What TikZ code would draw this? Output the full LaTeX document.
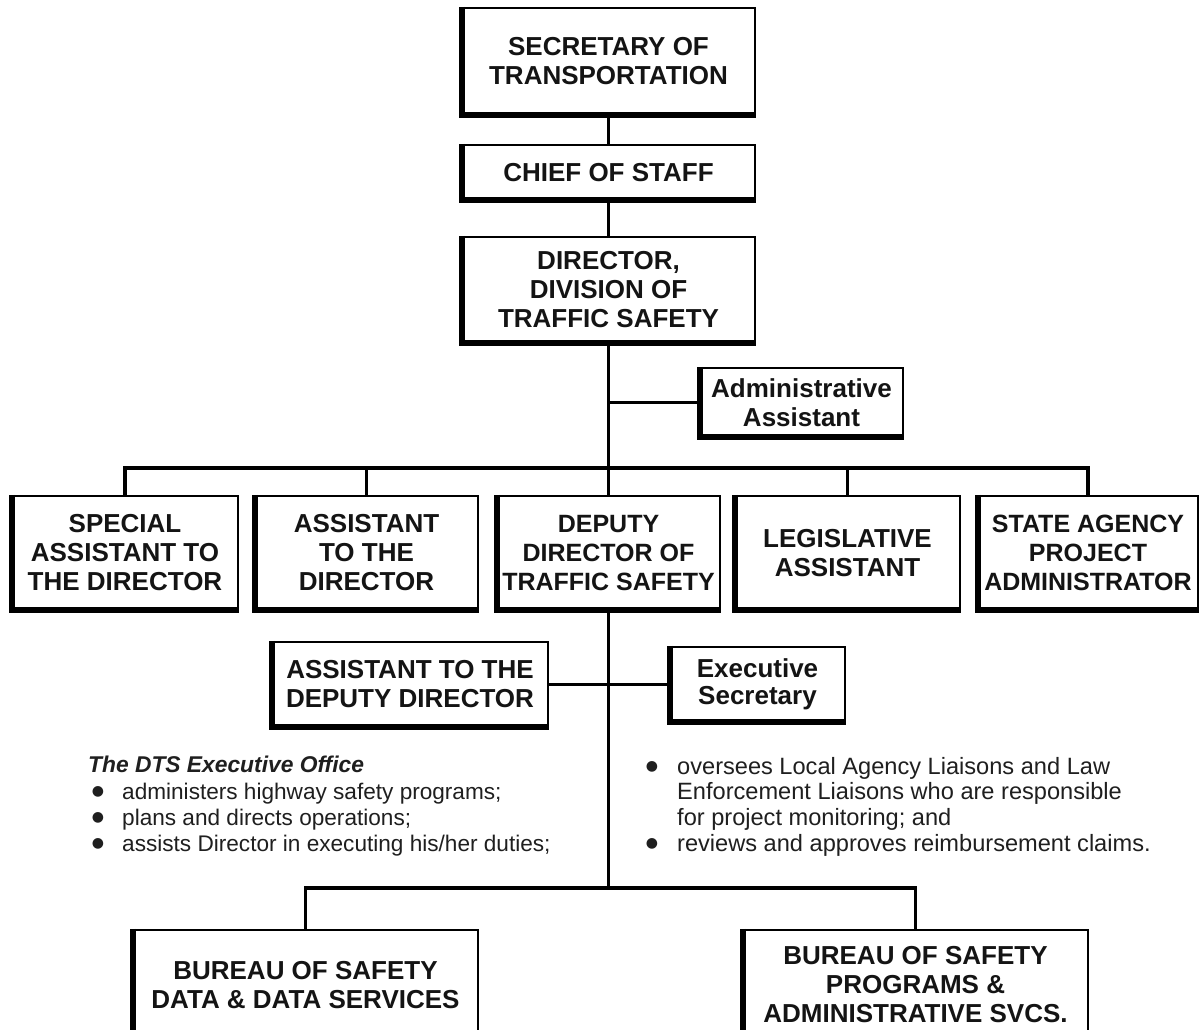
\documentclass[tikz,border=0pt]{standalone}
\usepackage{fontspec}
\setmainfont{Liberation Sans}
\newfontfamily\symfont{DejaVu Sans}
\begin{document}
\begin{tikzpicture}[x=1pt,y=-1pt,
  box/.style={draw=black, line width=2.2pt, fill=white, inner sep=0pt, align=center,
    font=\bfseries\fontsize{26}{29}\selectfont, text=black!92},
  boxnarrow/.style={box, font=\bfseries\fontsize{25}{29}\selectfont},
  boxtight/.style={box, font=\bfseries\fontsize{26}{26.5}\selectfont},
  link/.style={draw=black, line width=3.8pt, line cap=rect},
  shadowline/.style={draw=black, line width=5.5pt, line join=miter},
  body/.style={inner sep=0pt, anchor=base west, font=\fontsize{22.6}{26}\selectfont, text=black!88},
  bodyr/.style={body, font=\fontsize{23.6}{26}\selectfont},
  bodytitle/.style={body, font=\bfseries\itshape\fontsize{22.8}{26}\selectfont},
  dot/.style={inner sep=0pt, anchor=center, font=\symfont\fontsize{14}{14}\selectfont, text=black!88}]
\useasboundingbox (0,0) rectangle (1200,1030);
\clip (0,0) rectangle (1200,1030);
\fill[white] (0,0) rectangle (1200,1030);

% boxes
\node[box, minimum width=293pt, minimum height=107pt] (sec) at (608.5,61.5) {SECRETARY OF\\TRANSPORTATION};
\node[box, minimum width=293pt, minimum height=55pt] (cos) at (608.5,172.5) {CHIEF OF STAFF};
\node[box, minimum width=293pt, minimum height=106pt] (dir) at (608.5,290) {DIRECTOR,\\DIVISION OF\\TRAFFIC SAFETY};
\node[box, minimum width=203pt, minimum height=69pt] (adm) at (801.5,402.5) {Administrative\\Assistant};

\node[box, minimum width=226pt, minimum height=114pt] (spa) at (125,553) {SPECIAL\\ASSISTANT TO\\THE DIRECTOR};
\node[box, minimum width=223pt, minimum height=114pt] (atd) at (366.5,553) {ASSISTANT\\TO THE\\DIRECTOR};
\node[boxnarrow, minimum width=223pt, minimum height=114pt] (dep) at (608.5,553) {DEPUTY\\DIRECTOR OF\\TRAFFIC SAFETY};
\node[box, minimum width=225pt, minimum height=114pt] (leg) at (847.5,553) {LEGISLATIVE\\ASSISTANT};
\node[boxnarrow, minimum width=220pt, minimum height=114pt] (sap) at (1088,553) {STATE AGENCY\\PROJECT\\ADMINISTRATOR};

\node[box, minimum width=276pt, minimum height=85pt] (add) at (410,684.5) {ASSISTANT TO THE\\DEPUTY DIRECTOR};
\node[boxtight, minimum width=175pt, minimum height=75pt] (exs) at (757.5,684.5) {Executive\\Secretary};

\node[box, minimum width=345pt, minimum height=110pt] (bsd) at (305.5,985) {BUREAU OF SAFETY\\DATA \& DATA SERVICES};
\node[box, minimum width=345pt, minimum height=110pt] (bsp) at (915.5,985) {BUREAU OF SAFETY\\PROGRAMS \&\\ADMINISTRATIVE SVCS.};

% connectors
\coordinate (bus) at (608.5,468);
\coordinate (bbus) at (608.5,888);
\draw[link] (sec.south) -- (cos.north);
\draw[link] (cos.south) -- (dir.north);
\draw[link] (dir.south) -- (dep.north);
\draw[link] (adm.west) -- (adm.west -| dir.south);
\draw[link] (spa.north) |- (bus) -| (sap.north);
\draw[link] (atd.north) -- (atd.north |- bus);
\draw[link] (leg.north) -- (leg.north |- bus);
\draw[link] (dep.south) -- (bbus);
\draw[link] (add.east) -- (exs.west);
\draw[link] (bsd.north) |- (bbus) -| (bsp.north);

% box shadows (thick left and bottom edges)
\foreach \n in {sec,cos,dir,adm,spa,atd,dep,leg,sap,add,exs,bsd,bsp}
  \draw[shadowline] ([xshift=1pt]\n.north west) -- ([xshift=1pt,yshift=1pt]\n.south west) -- ([yshift=1pt]\n.south east);

% text blocks
\node[bodytitle] (t0) at (88,772) {The DTS Executive Office};
\node[dot] (lb1) at (98,792) {●};
\node[body] (l1) at (122,799) {administers highway safety programs;};
\node[dot] (lb2) at (98,818) {●};
\node[body] (l2) at (122,825) {plans and directs operations;};
\node[dot] (lb3) at (98,844) {●};
\node[body] (l3) at (122,851) {assists Director in executing his/her duties;};

\node[dot] (rb1) at (652,767) {●};
\node[bodyr] (r1) at (677,774) {oversees Local Agency Liaisons and Law};
\node[bodyr] (r2) at (677,799.5) {Enforcement Liaisons who are responsible};
\node[bodyr] (r3) at (677,825) {for project monitoring; and};
\node[dot] (rb2) at (652,844) {●};
\node[bodyr] (r4) at (677,851) {reviews and approves reimbursement claims.};
\end{tikzpicture}
\end{document}
